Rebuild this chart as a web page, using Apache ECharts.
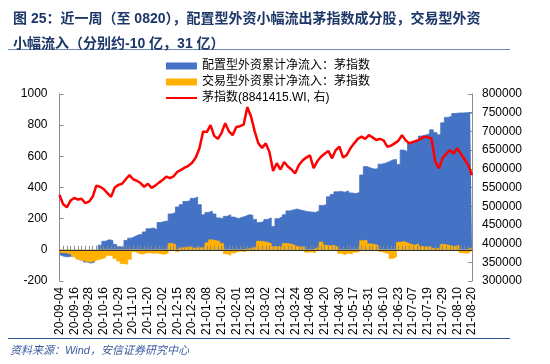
<!DOCTYPE html>
<html>
<head>
<meta charset="utf-8">
<script src="https://cdn.jsdelivr.net/npm/echarts@6/dist/echarts.min.js"></script>
<style>html,body{margin:0;padding:0;background:#fff}#c{width:550px;height:364px}</style>
</head>
<body>
<div id="c"></div>
<script>
// Tick labels (every 8th trading day); data sampled every 2 trading days
var tickLabels = ['20-09-04','20-09-16','20-09-28','20-10-16','20-10-29','20-11-10','20-11-20','20-12-02','20-12-15','20-12-28','21-01-08','21-01-20','21-02-01','21-02-18','21-03-02','21-03-12','21-03-24','21-04-08','21-04-20','21-04-30','21-05-17','21-05-31','21-06-10','21-06-23','21-07-07','21-07-19','21-07-29','21-08-10','21-08-20'];

// 配置型外资累计净流入（亿元，左轴）
var allocFlow = [-30,-40,-45,-42,-35,-50,-65,-78,-85,-80,-40,30,55,65,60,35,20,15,60,75,85,96,100,115,135,140,130,175,182,185,230,240,275,290,310,315,330,338,290,225,240,248,230,205,200,215,225,210,200,208,215,225,222,195,175,182,195,205,150,200,212,225,250,256,262,255,250,245,242,240,250,285,290,340,355,372,375,370,378,365,360,370,480,534,525,518,520,550,556,565,577,580,548,640,630,690,695,700,730,737,745,770,752,738,815,850,858,875,878,878,880,878,875];

// 交易型外资累计净流入（亿元，左轴）
var tradeFlow = [-15,-18,-20,-25,-45,-60,-68,-75,-78,-72,-62,-58,-50,-35,-38,-55,-72,-88,-92,-60,-10,-22,-28,-20,-18,-22,-20,-25,-28,-20,40,35,-10,12,15,20,10,14,12,15,45,64,58,55,40,-25,-35,-20,-10,-8,-12,5,12,15,55,52,48,40,20,22,15,40,38,32,22,18,20,-15,-12,-18,10,50,30,25,28,20,-22,-30,-20,-28,-15,-10,58,62,38,35,30,-10,-18,-25,-55,-45,48,52,45,35,30,38,22,18,20,8,5,15,35,30,25,22,28,-18,-22,-15,10];

// 茅指数 8841415.WI（右轴）
var maoIndex = [530000,505000,497000,515000,522000,518000,520000,508000,512000,525000,555000,552000,546000,535000,525000,550000,557000,560000,572000,583000,572000,568000,562000,552000,560000,549000,555000,563000,570000,579000,575000,580000,592000,597000,603000,608000,616000,630000,655000,700000,698000,717000,688000,680000,696000,722000,700000,690000,712000,714000,718000,765000,740000,700000,668000,656000,668000,645000,594000,615000,598000,618000,606000,598000,588000,610000,622000,630000,636000,602000,620000,632000,640000,648000,628000,650000,659000,630000,637000,655000,668000,680000,686000,680000,690000,684000,677000,680000,676000,659000,662000,668000,675000,690000,676000,668000,672000,675000,680000,686000,684000,681000,620000,601000,628000,640000,650000,641000,655000,640000,625000,610000,583000];

var categories = allocFlow.map(function(_, i){ return String(i); });
var STEP = 4;

var chart = echarts.init(document.getElementById('c'), null, {renderer:'canvas'});
var baseFont = '"Liberation Sans", Arial, "Noto Sans CJK SC", sans-serif';
var plain = function(v){ return String(v); };
chart.setOption({
  animation: false,
  backgroundColor: '#fff',
  title: {
    text: '图 25：近一周（至 0820），配置型外资小幅流出茅指数成分股，交易型外资\n小幅流入（分别约-10 亿，31 亿）',
    left: 8, top: 2,
    textStyle: {fontSize: 14, fontWeight: 'bold', color: '#1c3768', lineHeight: 25, fontFamily: baseFont}
  },
  graphic: [
    {type:'line', shape:{x1:8,y1:49.5,x2:510,y2:49.5}, style:{stroke:'#6f86b8', lineWidth:1}},
    {type:'line', shape:{x1:8,y1:338.5,x2:510,y2:338.5}, style:{stroke:'#2f5597', lineWidth:1.2}},
    {type:'text', left: 10, top: 345, style:{text:'资料来源：Wind，安信证券研究中心', fill:'#3a5a9c', font:'italic 11px "Liberation Sans", Arial, "Noto Sans CJK SC", sans-serif'}}
  ],
  legend: {
    orient: 'vertical', left: 160, top: 55, itemWidth: 31, itemHeight: 7, itemGap: 4,
    textStyle: {fontSize: 12, color: '#000', fontFamily: baseFont},
    data: [
      {name:'配置型外资累计净流入：茅指数', icon:'rect', itemStyle:{color:'#4472c4'}},
      {name:'交易型外资累计净流入：茅指数', icon:'rect', itemStyle:{color:'#ffb000'}},
      {name:'茅指数(8841415.WI, 右)', itemStyle:{color:'rgba(0,0,0,0)', borderWidth:0, opacity:0}, lineStyle:{color:'#ff0000', width:2}}
    ]
  },
  grid: {left: 59.5, right: 78, top: 94, bottom: 83},
  xAxis: [
    {
      type:'category', data: categories, boundaryGap: false, position:'bottom',
      axisLine:{show:false, onZero:false}, axisTick:{show:false},
      axisLabel:{interval: STEP-1, rotate: 90, margin: 6, fontSize: 12, color:'#000', fontFamily: baseFont,
        formatter: function(v, i){ return tickLabels[i/STEP] || ''; }}
    },
    {
      type:'category', data: categories, boundaryGap: false, position:'top', z: 5,
      axisLine:{show:true, onZero:true, onZeroAxisIndex:0, lineStyle:{color:'#3a3020', width:1.2}},
      axisTick:{show:true, interval:0, inside:false, length:4, lineStyle:{color:'#8a8a8a'}},
      axisLabel:{show:false}
    }
  ],
  yAxis: [
    {
      type:'value', min:-200, max:1000, interval:200, position:'left',
      axisLine:{show:true, lineStyle:{color:'#8c8c8c'}},
      axisTick:{show:true, inside:true, length:4, lineStyle:{color:'#8c8c8c'}},
      splitLine:{show:false},
      axisLabel:{fontSize: 12, color:'#000', margin: 12, fontFamily: baseFont, formatter: plain}
    },
    {
      type:'value', min:300000, max:800000, interval:50000, position:'right',
      axisLine:{show:true, lineStyle:{color:'#8c8c8c'}},
      axisTick:{show:true, inside:true, length:4, lineStyle:{color:'#8c8c8c'}},
      splitLine:{show:false},
      axisLabel:{fontSize: 12, color:'#000', margin: 10, fontFamily: baseFont, formatter: plain}
    }
  ],
  series: [
    {name:'配置型外资累计净流入：茅指数', type:'line', step:'middle', data: allocFlow, xAxisIndex:0, yAxisIndex:0,
      showSymbol:false, symbol:'none', lineStyle:{width:0.8, color:'#4472c4'}, itemStyle:{color:'#4472c4'},
      areaStyle:{color:'#4472c4', opacity:1, origin:0}, z:2},
    {name:'交易型外资累计净流入：茅指数', type:'line', step:'middle', data: tradeFlow, xAxisIndex:0, yAxisIndex:0,
      showSymbol:false, symbol:'none', lineStyle:{width:0.8, color:'#ffb000'}, itemStyle:{color:'#ffb000'},
      areaStyle:{color:'#ffb000', opacity:1, origin:0}, z:3},
    {name:'茅指数(8841415.WI, 右)', type:'line', data: maoIndex, xAxisIndex:0, yAxisIndex:1,
      showSymbol:false, symbol:'none', lineStyle:{color:'#ff0000', width:2.5}, itemStyle:{color:'#ff0000'}, z:6}
  ]
});
</script>
</body>
</html>
